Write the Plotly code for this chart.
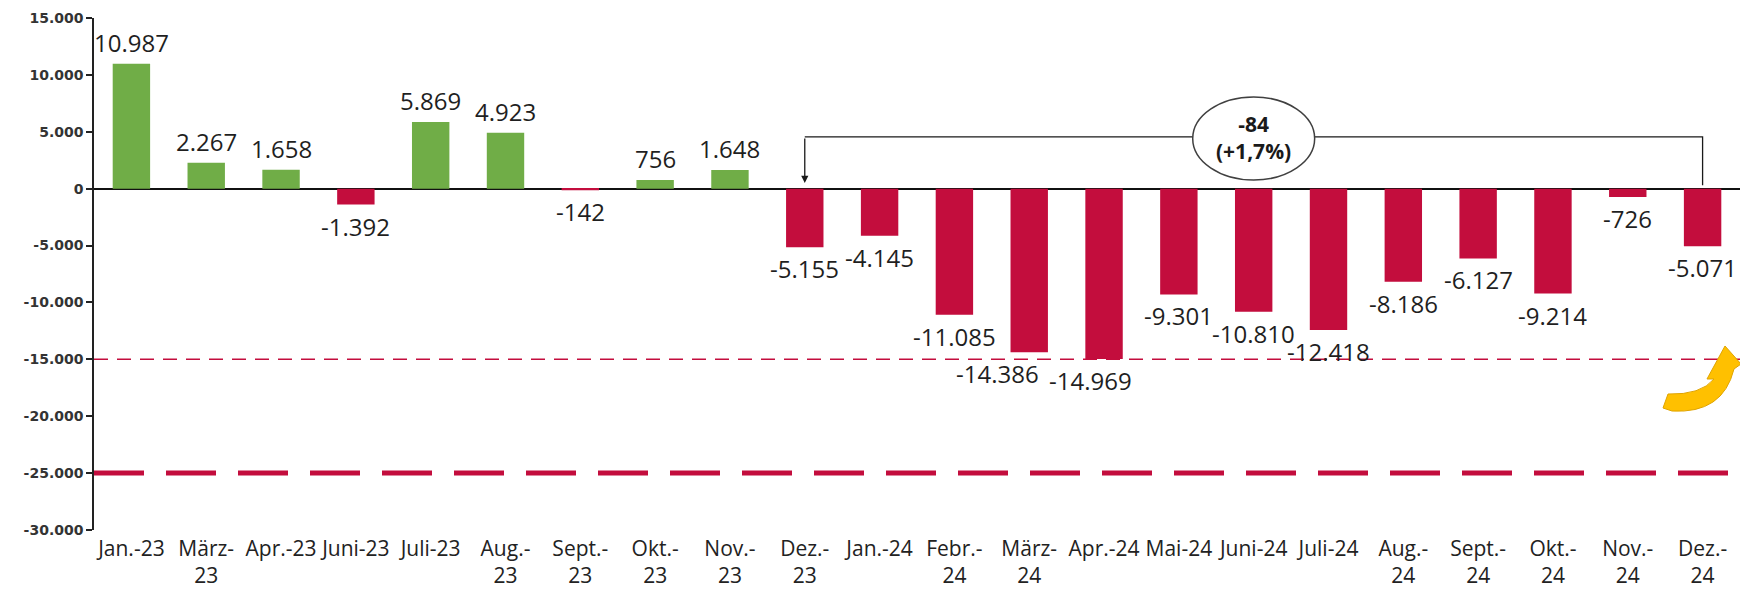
import plotly.graph_objects as go

# ---------------- data ----------------
months = ["Jan.-23", "März-<br>23", "Apr.-23", "Juni-23", "Juli-23", "Aug.-<br>23",
          "Sept.-<br>23", "Okt.-<br>23", "Nov.-<br>23", "Dez.-<br>23", "Jan.-24",
          "Febr.-<br>24", "März-<br>24", "Apr.-24", "Mai-24", "Juni-24", "Juli-24",
          "Aug.-<br>24", "Sept.-<br>24", "Okt.-<br>24", "Nov.-<br>24", "Dez.-<br>24"]
values = [10987, 2267, 1658, -1392, 5869, 4923, -142, 756, 1648, -5155, -4145,
          -11085, -14386, -14969, -9301, -10810, -12418, -8186, -6127, -9214, -726, -5071]
y_ticks = [15000, 10000, 5000, 0, -5000, -10000, -15000, -20000, -25000, -30000]
ref_thin = -15000
ref_thick = -25000
bracket_from = "Dez.-<br>23"
bracket_to = "Dez.-<br>24"
bubble_month = "Juni-24"
bubble_text = "<b>-84<br>(+1,7%)</b>"

GREEN = "#70AD47"
RED = "#C30D3D"

# manual horizontal nudges of a few value labels (pixels), as in the original
label_xshift = {"März-<br>24": -32, "Apr.-24": -14}


def de(v):
    return f"{v:,}".replace(",", ".")


# ---------------- layout geometry ----------------
W, H = 1740, 592
ML, MR, MT, MB = 94, 0, 18, 62
PW, PH = W - ML - MR, H - MT - MB


def px_paper(px, py):
    return (px - ML) / PW, (H - MB - py) / PH


xs = list(range(len(months)))
colors = [GREEN if v >= 0 else RED for v in values]

fig = go.Figure()
fig.add_trace(go.Bar(
    x=xs, y=values, marker=dict(color=colors, line=dict(width=0)),
    width=0.5, hoverinfo="skip",
))

shapes = []
# reference lines
shapes.append(dict(type="line", xref="paper", yref="y", x0=0, x1=1, y0=ref_thin, y1=ref_thin,
                   line=dict(color=RED, width=1.5, dash="14px,9px"), layer="below"))
shapes.append(dict(type="line", xref="paper", yref="y", x0=0, x1=1, y0=ref_thick, y1=ref_thick,
                   line=dict(color=RED, width=5, dash="50px,22px"), layer="below"))

# bracket
i0 = months.index(bracket_from)
i1 = months.index(bracket_to)
ib = months.index(bubble_month)
y_bar = 4550
shapes.append(dict(type="path", xref="x", yref="y",
                   path=f"M {i0},{y_bar} L {i1},{y_bar} L {i1},300",
                   line=dict(color="#1a1a1a", width=1.3)))
# bubble
shapes.append(dict(type="circle", xref="x", yref="y",
                   x0=ib - 0.815, x1=ib + 0.815, y0=760, y1=8060,
                   line=dict(color="#404040", width=1.5), fillcolor="white"))

# orange curved arrow (pixel sketch converted to paper coords)
pts = [("M", 1663, 408), ("L", 1668, 394), ("Q", 1701, 395, 1714, 379), ("L", 1707, 379),
       ("L", 1725, 346), ("L", 1741, 364), ("L", 1734, 369), ("Q", 1723, 414, 1672, 411),
       ("L", 1663, 408)]
segs = []
for p in pts:
    cmd = p[0]
    coords = p[1:]
    conv = []
    for k in range(0, len(coords), 2):
        a, b = px_paper(coords[k], coords[k + 1])
        conv.append(f"{a:.5f},{b:.5f}")
    segs.append(cmd + " " + " ".join(conv))
arrow_path = " ".join(segs) + " Z"
shapes.append(dict(type="path", xref="paper", yref="paper", path=arrow_path,
                   fillcolor="#FFC000", line=dict(color="#E0A400", width=1)))

annotations = [
    dict(x=i0, y=500, ax=i0, ay=y_bar, xref="x", yref="y", axref="x", ayref="y",
         showarrow=True, arrowhead=2, arrowsize=1.1, arrowwidth=1.3, arrowcolor="#1a1a1a", text=""),
    dict(x=ib, y=4500, xref="x", yref="y", text=bubble_text, showarrow=False,
         font=dict(family="Open Sans", size=21, color="#1a1a1a")),
]

# value labels
for m, x, v in zip(months, xs, values):
    annotations.append(dict(
        x=x, y=v, xref="x", yref="y", text=de(v), showarrow=False,
        yanchor="bottom" if v >= 0 else "top",
        yshift=3 if v >= 0 else -3,
        xshift=label_xshift.get(m, 0),
        font=dict(family="Open Sans", size=24, color="#1f1f1f"),
    ))

fig.update_layout(
    width=W, height=H,
    margin=dict(l=ML, r=MR, t=MT, b=MB, pad=0),
    plot_bgcolor="white", paper_bgcolor="white",
    showlegend=False, shapes=shapes, annotations=annotations,
    bargap=0.5,
    xaxis=dict(range=[-0.5, len(months) - 0.5], tickmode="array", tickvals=xs, ticktext=months,
               tickangle=0, showgrid=False, zeroline=False, showline=False, ticks="",
               tickfont=dict(family="Open Sans", size=21, color="#222222"),
               ticklabelstandoff=4, fixedrange=True),
    yaxis=dict(range=[-30000, 15000], tickmode="array", tickvals=y_ticks,
               ticktext=[de(v) for v in y_ticks], showgrid=False,
               zeroline=True, zerolinecolor="#111111", zerolinewidth=1.5,
               showline=True, linecolor="#222222", linewidth=1.5,
               ticks="outside", ticklen=6, tickcolor="#222222", tickwidth=1.5,
               tickfont=dict(family="DejaVu Sans", size=14, color="#333333", weight="bold"),
               fixedrange=True),
)

fig.write_html("out.html")
